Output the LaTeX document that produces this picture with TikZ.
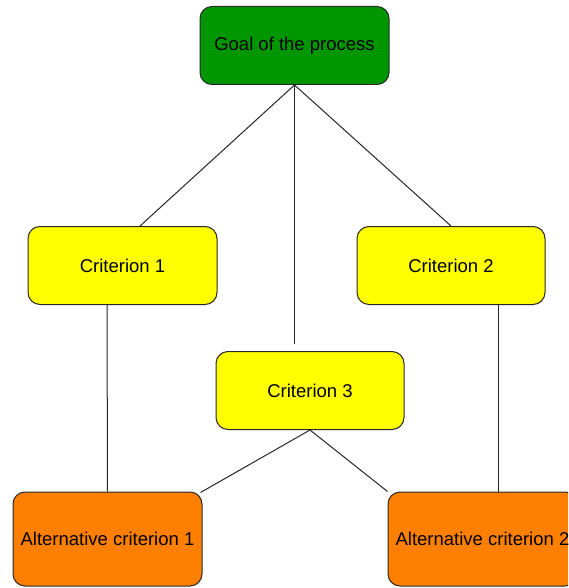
\documentclass[tikz,border=0pt]{standalone}
\usepackage{fontspec}
\setmainfont{Liberation Sans}
\definecolor{goalgreen}{RGB}{0,150,0}
\definecolor{crityellow}{RGB}{255,255,0}
\definecolor{altorange}{RGB}{255,128,0}
\definecolor{edgegray}{RGB}{40,40,40}
\tikzset{
  box/.style={draw=edgegray, line width=1pt, rounded corners=12pt, minimum width=189pt, minimum height=78pt, inner sep=0pt, text=black, font=\fontsize{18.5pt}{22pt}\selectfont},
  goalbox/.style={box, fill=goalgreen},
  critbox/.style={box, fill=crityellow},
  altbox/.style={box, fill=altorange, minimum height=94pt},
  link/.style={draw=black!85, line width=1pt}
}
\begin{document}
\begin{tikzpicture}[x=1pt,y=-1pt]
\useasboundingbox (0,0) rectangle (568,588);
\clip (0,0) rectangle (568,588);
\node[goalbox] (goal) at (294.5,45.5) {Goal of the process};
\node[critbox] (c1) at (122.5,265.5) {Criterion 1};
\node[critbox, minimum width=188pt] (c2) at (451,265.5) {Criterion 2};
\node[critbox, minimum width=188pt] (c3) at (310,390.5) {Criterion 3};
\node[altbox] (a1) at (107.5,539) {Alternative criterion 1};
\node[altbox] (a2) at (482.5,539) {Alternative criterion 2};
\draw[link] (goal.south) -- ([xshift=17.5pt]c1.north);
\draw[link] (goal.south) -- (c2.north);
\draw[link] (goal.south) -- ([yshift=7pt]c3.north -| goal.south);
\draw[link] ([xshift=-15.5pt]c1.south) -- (a1.north);
\draw[link] ([xshift=47pt]c2.south) -- ([xshift=15.5pt]a2.north);
\draw[link] (c3.south) -- ([xshift=-2pt,yshift=-1pt]a1.north east);
\draw[link] (c3.south) -- ([xshift=0pt,yshift=0pt]a2.north west);
\end{tikzpicture}
\end{document}
